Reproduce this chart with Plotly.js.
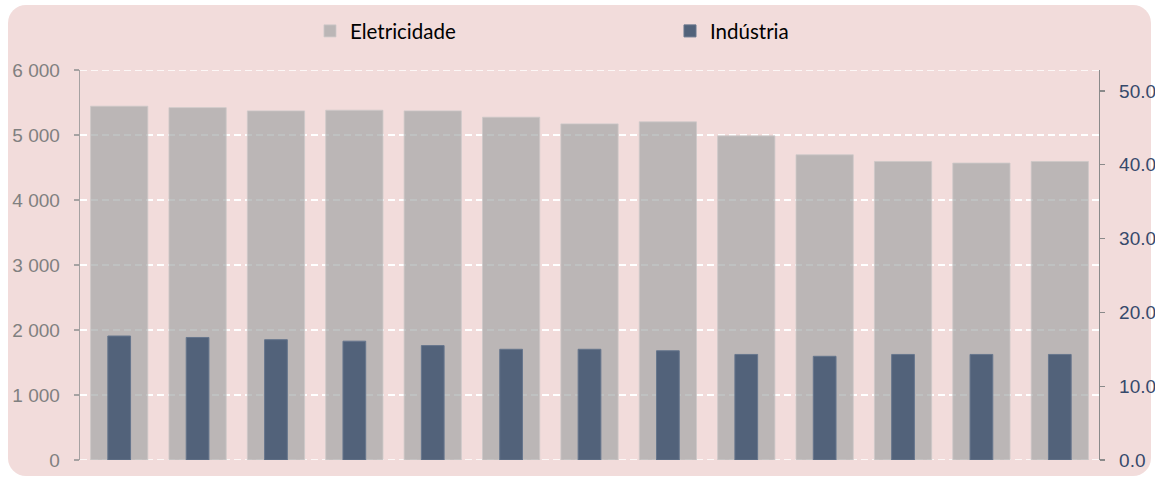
<!DOCTYPE html>
<html>
<head>
<meta charset="utf-8">
<script src="https://cdn.plot.ly/plotly-3.0.1.min.js"></script>
<style>
  html, body { margin: 0; padding: 0; background: #ffffff; width: 1155px; height: 477px; overflow: hidden; }
  #panel { position: absolute; left: 8px; top: 5px; width: 1143px; height: 471px; background: #f2dcdb; border-radius: 18px; }
  #chart { position: absolute; left: 0; top: 0; width: 1155px; height: 477px; }
</style>
</head>
<body>
<div id="panel"></div>
<div id="chart"></div>
<script>
// Data
const categories = ["1", "2", "3", "4", "5", "6", "7", "8", "9", "10", "11", "12", "13"];
const eletricidade = [5443, 5421, 5371, 5381, 5371, 5274, 5171, 5202, 4987, 4695, 4593, 4568, 4593];
const industria = [16.8, 16.6, 16.3, 16.1, 15.5, 15.0, 15.0, 14.8, 14.3, 14.05, 14.3, 14.3, 14.3];
const leftTicks = [0, 1000, 2000, 3000, 4000, 5000, 6000];
const rightTicks = [0, 10, 20, 30, 40, 50];

const traces = [
  {
    type: "bar", name: "Eletricidade", x: categories, y: eletricidade, yaxis: "y",
    width: 0.73, offset: -0.365,
    marker: { color: "rgba(160,163,164,0.68)", line: { color: "rgba(205,200,200,0.8)", width: 1 } },
    hoverinfo: "skip"
  },
  {
    type: "bar", name: "Indústria", x: categories, y: industria, yaxis: "y2",
    width: 0.29, offset: -0.145,
    marker: { color: "#52627a", line: { color: "#66768d", width: 1 } },
    hoverinfo: "skip"
  }
];

const edgeLines = [0, 6000].map(v => ({
  type: "line", xref: "paper", yref: "y", x0: 0, x1: 1, y0: v, y1: v, layer: "below",
  line: { color: "#ffffff", width: 1.5, dash: "7px,4px" }
}));

const layout = {
  width: 1155, height: 477,
  margin: { l: 80, r: 56, t: 69, b: 17, pad: 0 },
  paper_bgcolor: "rgba(0,0,0,0)",
  plot_bgcolor: "rgba(0,0,0,0)",
  barmode: "overlay",
  separators: ". ",
  showlegend: true,
  shapes: edgeLines,
  legend: {
    orientation: "h", x: 0.2257, xanchor: "left", y: 1.097, yanchor: "middle",
    entrywidth: 315, entrywidthmode: "pixels",
    font: { family: "Lato, 'Open Sans', sans-serif", size: 20.5, color: "#000000" },
    bgcolor: "rgba(0,0,0,0)", traceorder: "normal"
  },
  xaxis: {
    type: "category", showticklabels: false, showgrid: false, zeroline: false,
    showline: false, ticks: "", range: [-0.5, 12.5], fixedrange: true
  },
  yaxis: {
    range: [0, 6000], tickvals: leftTicks, tickformat: ",d",
    showgrid: true, gridcolor: "#ffffff", griddash: "7px,4px", gridwidth: 1.5,
    zeroline: false, showline: true, linecolor: "#a6a2a2", linewidth: 1.3,
    ticks: "outside", ticklen: 5, tickcolor: "#a6a2a2", tickwidth: 1.3,
    ticklabelstandoff: 10,
    tickfont: { family: "'Liberation Sans', Arial, sans-serif", size: 19, color: "#808080" },
    fixedrange: true
  },
  yaxis2: {
    overlaying: "y", side: "right", range: [0, 52.84], tickvals: rightTicks, tickformat: ".1f",
    showgrid: false, zeroline: false, showline: true, linecolor: "#8a8a8a", linewidth: 1.3,
    ticks: "outside", ticklen: 5, tickcolor: "#8a8a8a", tickwidth: 1.3,
    ticklabelstandoff: 10,
    tickfont: { family: "'Liberation Sans', Arial, sans-serif", size: 19, color: "#36496b" },
    fixedrange: true
  }
};

Plotly.newPlot("chart", traces, layout, { staticPlot: true, displayModeBar: false });
</script>
</body>
</html>
